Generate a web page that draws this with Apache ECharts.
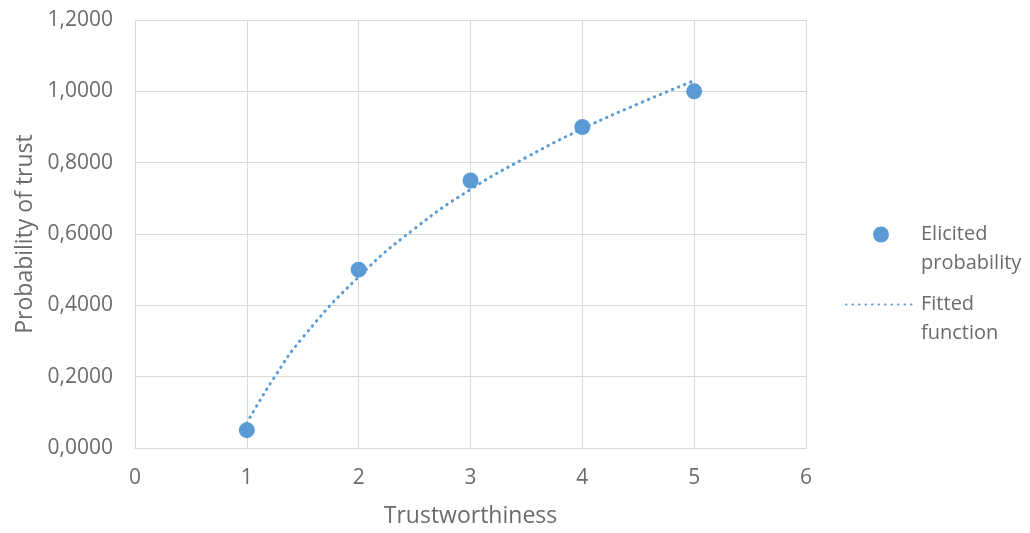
<!DOCTYPE html>
<html>
<head>
<meta charset="utf-8">
<script src="https://cdn.jsdelivr.net/npm/echarts@6/dist/echarts.min.js"></script>
<style>html,body{margin:0;padding:0;background:#fff;}#c{width:1030px;height:533px;}</style>
</head>
<body>
<div id="c"></div>
<script>
// Data
const trustworthiness = [1, 2, 3, 4, 5];
const elicitedProbability = [0.05, 0.50, 0.75, 0.90, 1.00];
const fittedX = [1, 1.25, 1.5, 2, 2.5, 3, 3.5, 4, 4.5, 5];
const fittedY = [0.07, 0.20, 0.31, 0.48, 0.615, 0.725, 0.815, 0.895, 0.965, 1.03];
const seriesNames = ['Elicited\nprobability', 'Fitted\nfunction'];
const xAxisTitle = 'Trustworthiness';
const yAxisTitle = 'Probability of trust';

const blue = '#5B9BD5';
const txt = '#6b6b6b';
const font = 'Open Sans';
const chart = echarts.init(document.getElementById('c'));
chart.setOption({
  animation: false,
  grid: { left: 135, right: 224, top: 20, bottom: 83 },
  xAxis: {
    type: 'value', min: 0, max: 6, interval: 1,
    name: xAxisTitle, nameLocation: 'middle', nameGap: 57,
    nameTextStyle: { color: txt, fontFamily: font, fontSize: 23 },
    axisLine: { show: true, lineStyle: { color: '#D9D9D9', width: 1 } },
    axisTick: { show: false },
    axisLabel: { color: txt, fontFamily: font, fontSize: 21, margin: 20 },
    splitLine: { show: true, lineStyle: { color: '#D9D9D9', width: 1 } }
  },
  yAxis: {
    type: 'value', min: 0, max: 1.2, interval: 0.2,
    name: yAxisTitle, nameLocation: 'middle', nameGap: 98, nameRotate: 90,
    nameTextStyle: { color: txt, fontFamily: font, fontSize: 23 },
    axisLine: { show: false },
    axisTick: { show: false },
    axisLabel: { color: txt, fontFamily: font, fontSize: 21, margin: 22,
      formatter: v => v.toFixed(4).replace('.', ',') },
    splitLine: { show: true, lineStyle: { color: '#D9D9D9', width: 1 } }
  },
  legend: {
    orient: 'vertical', left: 840, top: 186,
    itemWidth: 70, itemHeight: 16, itemGap: -17,
    formatter: name => '\n' + name,
    textStyle: { color: txt, fontFamily: font, fontSize: 20, lineHeight: 29 },
    data: [
      { name: seriesNames[0], icon: 'circle' },
      { name: seriesNames[1], itemStyle: { opacity: 0 } }
    ]
  },
  series: [
    {
      name: seriesNames[1], type: 'line', smooth: true, symbol: 'none', z: 2,
      data: fittedX.map((x, i) => [x, fittedY[i]]),
      lineStyle: { color: blue, width: 3, type: [0.5, 6], cap: 'round' },
      itemStyle: { color: blue }
    },
    {
      name: seriesNames[0], type: 'scatter', symbol: 'circle', symbolSize: 16, z: 3,
      data: trustworthiness.map((x, i) => [x, elicitedProbability[i]]),
      itemStyle: { color: blue, opacity: 1 }
    }
  ]
});
</script>
</body>
</html>
